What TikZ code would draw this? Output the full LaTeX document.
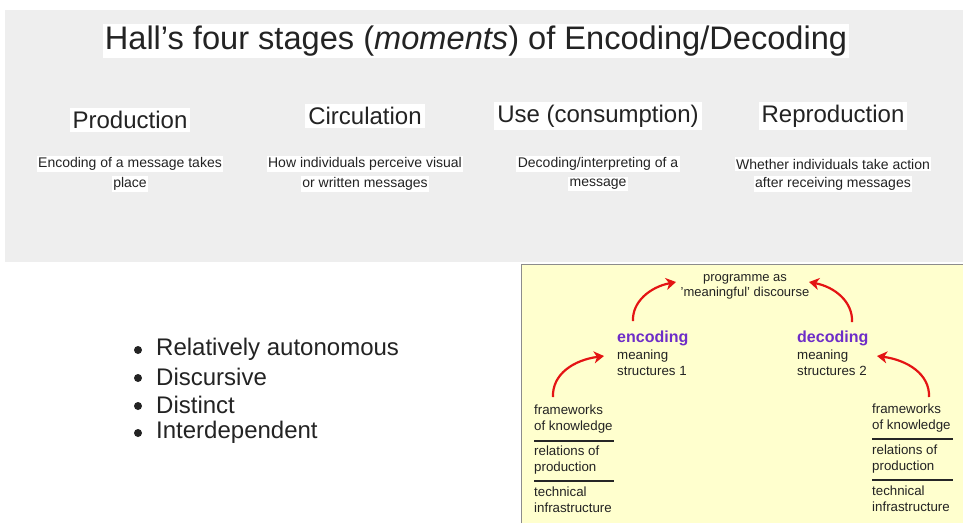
\documentclass[tikz,border=0pt]{standalone}
\usepackage{fontspec}
\setmainfont{Liberation Sans}
\usetikzlibrary{arrows.meta}
\definecolor{panelgray}{RGB}{238,238,238}
\definecolor{paleyellow}{RGB}{255,255,206}
\definecolor{boxborder}{RGB}{140,140,140}
\definecolor{codepurple}{RGB}{110,45,200}
\definecolor{arrowred}{RGB}{228,20,20}
\definecolor{textgray}{RGB}{35,35,35}
\begin{document}
\begin{tikzpicture}[x=1pt,y=-1pt,
  titlestyle/.style={font=\fontsize{32.6}{38}\selectfont, fill=white, inner sep=2pt, text=textgray},
  headstyle/.style={font=\fontsize{24}{28}\selectfont, fill=white, inner sep=3pt, text=textgray},
  descstyle/.style={font=\fontsize{14}{16}\selectfont, fill=white, inner sep=1.5pt, text=textgray},
  bulletstyle/.style={font=\fontsize{24}{28}\selectfont, anchor=west, inner sep=0pt, text=textgray},
  dotstyle/.style={circle, fill=textgray, inner sep=0pt, minimum size=8pt},
  ytext/.style={font=\fontsize{13.3}{16}\selectfont, align=left, anchor=west, inner sep=0pt, text=textgray},
  ctext/.style={font=\fontsize{13}{15.5}\selectfont, align=center, inner sep=0pt, text=textgray},
  codestyle/.style={font=\fontsize{16}{18}\selectfont\bfseries, anchor=west, inner sep=0pt, text=codepurple},
  redarrow/.style={draw=arrowred, line width=2.2pt, -{Stealth[length=10pt,width=12pt,inset=3pt]}},
  sepline/.style={draw=black!85, line width=1.2pt}
]
\useasboundingbox (0,0) rectangle (963,523);
\fill[white] (0,0) rectangle (963,523);
% grey panel
\fill[panelgray] (5,10) rectangle (963,262);
% title
\node[titlestyle] (title) at (476,41) {Hall’s four stages (\textit{moments}) of Encoding/Decoding};
% stage headings
\node[headstyle] (h1) at (130,120) {Production};
\node[headstyle] (h2) at (365,116) {Circulation};
\node[headstyle] (h3) at (598,116) {Use (consumption)};
\node[headstyle] (h4) at (833,116) {Reproduction};
% descriptions
\node[descstyle] (d1a) at (130,164) {Encoding of a message takes};
\node[descstyle] (d1b) at (130,184) {place};
\node[descstyle] (d2a) at (365,164) {How individuals perceive visual};
\node[descstyle] (d2b) at (365,184) {or written messages};
\node[descstyle] (d3a) at (598,164) {Decoding/interpreting of a};
\node[descstyle] (d3b) at (598,184) {message};
\node[descstyle] (d4a) at (833,164) {Whether individuals take action};
\node[descstyle] (d4b) at (833,184) {after receiving messages};
% bullets
\node[dotstyle] (p1) at (138,350) {};
\node[dotstyle] (p2) at (138,378) {};
\node[dotstyle] (p3) at (138,406) {};
\node[dotstyle] (p4) at (138,433) {};
\node[bulletstyle] (b1) at (156,349) {Relatively autonomous};
\node[bulletstyle] (b2) at (156,377) {Discursive};
\node[bulletstyle] (b3) at (156,405) {Distinct};
\node[bulletstyle] (b4) at (156,432) {Interdependent};
% yellow box
\fill[paleyellow] (521,265) rectangle (963,523);
\draw[boxborder, line width=1.5pt] (521.5,523) -- (521.5,264.5) -- (963,264.5);
% programme
\node[ctext] (prog) at (745,287) {programme as\\'meaningful' discourse};
% encoding / decoding
\node[codestyle] (enc) at (617,338) {encoding};
\node[ytext] (encm) at (617,363) {meaning\\structures 1};
\node[codestyle] (dec) at (797,338) {decoding};
\node[ytext] (decm) at (797,363) {meaning\\structures 2};
% left stack
\node[ytext] (lf) at (534,419) {frameworks\\of knowledge};
\node[ytext] (lr) at (534,460) {relations of\\production};
\node[ytext] (lt) at (534,500) {technical\\infrastructure};
\draw[sepline] (534,441) -- (614,441);
\draw[sepline] (534,481) -- (614,481);
% right stack
\node[ytext] (rf) at (872,418) {frameworks\\of knowledge};
\node[ytext] (rr) at (872,459) {relations of\\production};
\node[ytext] (rt) at (872,499) {technical\\infrastructure};
\draw[sepline] (872,439) -- (953,439);
\draw[sepline] (872,480) -- (953,480);
% arrow end points
\coordinate (a1s) at (553,397);
\coordinate (a1e) at (604,356);
\coordinate (a2s) at (633,321);
\coordinate (a2e) at (676,282);
\coordinate (a3s) at (852,322);
\coordinate (a3e) at (809,282);
\coordinate (a4s) at (929,397);
\coordinate (a4e) at (877,356);
\draw[redarrow] (a1s) .. controls (552,374) and (574,360) .. (a1e);
\draw[redarrow] (a2s) .. controls (632,302) and (650,287) .. (a2e);
\draw[redarrow] (a3s) .. controls (853,302) and (835,287) .. (a3e);
\draw[redarrow] (a4s) .. controls (930,374) and (907,360) .. (a4e);
\end{tikzpicture}
\end{document}
